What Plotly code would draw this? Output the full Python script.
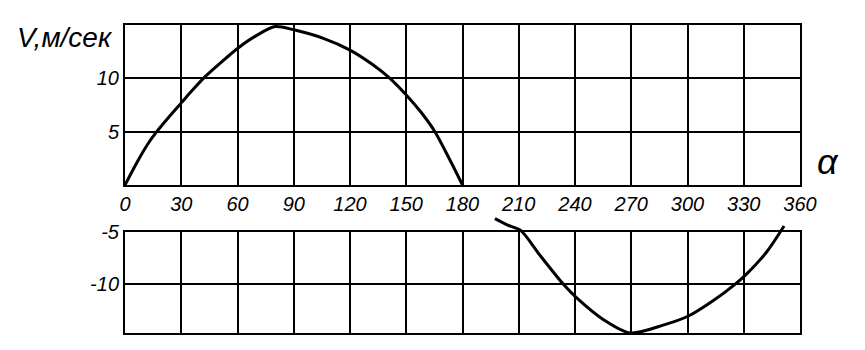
import plotly.graph_objects as go

# ---- data ----
x_ticks = [0, 30, 60, 90, 120, 150, 180, 210, 240, 270, 300, 330, 360]
x_tick_labels = [str(v) for v in x_ticks]

top_deg = [0, 6, 12, 16.9, 24, 30, 36, 41.8, 50, 60, 70, 80, 90, 105.8, 120, 132.4, 141.3, 150, 158, 165.3, 173.3, 180]
top_v = [0, 2.0, 3.8, 5.0, 6.5, 7.7, 8.9, 10, 11.3, 12.8, 14.0, 14.85, 14.55, 13.75, 12.65, 11.25, 10, 8.44, 6.8, 5, 2.34, 0]

bot_deg = [197.3, 204.4, 211, 221.3, 233.8, 240.9, 255, 269.5, 287, 300.8, 313.8, 325.3, 331.6, 342.2, 351.5]
bot_v = [-3.72, -4.36, -4.84, -7.22, -10, -11.3, -13.35, -14.65, -13.9, -13.0, -11.55, -10, -9.0, -6.91, -4.43]

top_y_ticks = [5, 10]
top_y_labels = ["5", "10"]
bot_y_ticks = [-5, -10]
bot_y_labels = ["-5", "-10"]

FONT = "Liberation Sans, Arial, sans-serif"
tick_font = dict(family=FONT, size=20, color="black", style="italic")

fig = go.Figure()
fig.add_trace(go.Scatter(x=top_deg, y=top_v, mode="lines", xaxis="x", yaxis="y",
                         line=dict(color="black", width=3, shape="spline", smoothing=0.8),
                         showlegend=False, hoverinfo="skip"))
# empty trace so the lower frame/grid subplot is created
fig.add_trace(go.Scatter(x=[], y=[], mode="lines", xaxis="x2", yaxis="y2",
                         showlegend=False, hoverinfo="skip"))
fig.add_trace(go.Scatter(x=bot_deg, y=bot_v, mode="lines", xaxis="x3", yaxis="y3",
                         line=dict(color="black", width=3, shape="spline", smoothing=0.8),
                         showlegend=False, hoverinfo="skip"))

# page has an 8px body margin: figure occupies page x 8..865, y 8..350
OFF = 8
W, H = 865 - OFF, 350 - OFF
ml, mr, mt, mb = 125 - OFF, 865 - 800, 25 - OFF, 350 - 333
ph = H - mt - mb
pw = W - ml - mr
def dom(page_y):
    return (350 - mb - page_y) / ph
def domx(page_x):
    return (page_x - 125) / pw

y2_lo, y2_hi = -14.65, -5
px_per_unit = (333 - 232) / (y2_hi - y2_lo)
y3_top_px = 212
y3_hi = y2_lo + (333 - y3_top_px) / px_per_unit

common_ax = dict(showline=True, mirror=True, linecolor="black", linewidth=2,
                 showgrid=True, gridcolor="black", gridwidth=2, zeroline=False,
                 ticks="", tickfont=tick_font, automargin=False)

fig.update_layout(
    width=W, height=H, autosize=False,
    margin=dict(l=ml, r=mr, t=mt, b=mb),
    paper_bgcolor="white", plot_bgcolor="rgba(0,0,0,0)",
    xaxis=dict(domain=[0, 1], range=[0, 360], anchor="y", tickvals=x_ticks,
               ticktext=x_tick_labels, ticklabelstandoff=0, **common_ax),
    yaxis=dict(domain=[dom(185), 1], range=[0, 15], anchor="x", tickvals=top_y_ticks,
               ticktext=top_y_labels, ticklabelstandoff=0, **common_ax),
    xaxis2=dict(domain=[0, 1], range=[0, 360], anchor="y2", tickvals=x_ticks,
                showticklabels=False, **common_ax),
    yaxis2=dict(domain=[0, dom(232)], range=[y2_lo, y2_hi], anchor="x2", tickvals=bot_y_ticks,
                ticktext=bot_y_labels, ticklabelstandoff=0, **common_ax),
    xaxis3=dict(domain=[0, 1], range=[0, 360], anchor="y3", visible=False, automargin=False),
    yaxis3=dict(domain=[0, dom(y3_top_px)], range=[y2_lo, y3_hi], anchor="x3", visible=False,
                automargin=False),
    annotations=[
        dict(text="V,м/сек", xref="paper", yref="paper", x=domx(15), y=dom(37),
             xanchor="left", yanchor="middle", showarrow=False,
             font=dict(family=FONT, size=28, color="black", style="italic")),
        dict(text="α", xref="paper", yref="paper", x=domx(828), y=dom(161),
             xanchor="center", yanchor="middle", showarrow=False,
             font=dict(family=FONT, size=36, color="black", style="italic")),
    ],
)

fig.write_html("out.html")
